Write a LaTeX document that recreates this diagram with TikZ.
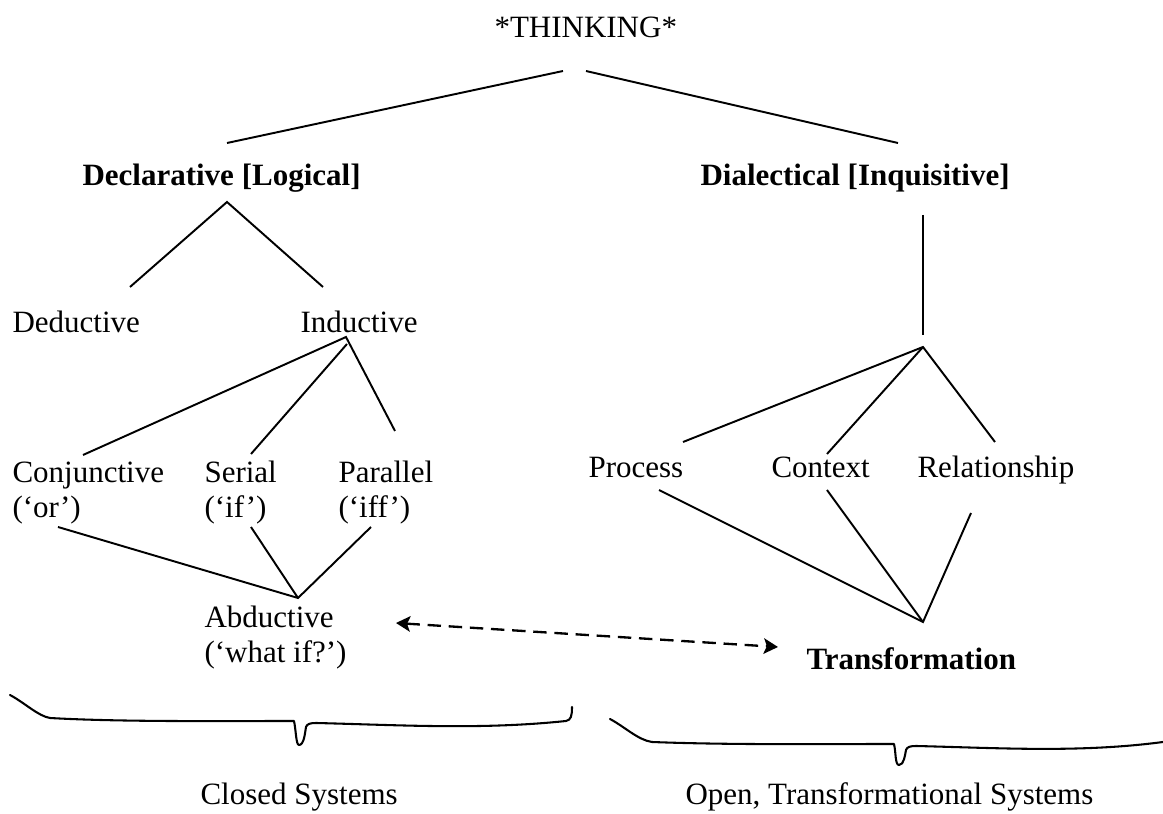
\documentclass[tikz,border=0pt]{standalone}
\usepackage{fontspec}
\setmainfont{Liberation Serif}
\usetikzlibrary{arrows.meta}
\begin{document}
\begin{tikzpicture}[x=0.3871pt,y=-0.3871pt,
  txt/.style={inner sep=0pt, anchor=base west, font=\fontsize{12}{13.75}\selectfont, align=left},
  bld/.style={txt, font=\fontsize{12}{13.75}\selectfont\bfseries},
  ln/.style={line width=0.75pt},
  brace/.style={line width=0.8pt, line cap=round, line join=round},
  dbl/.style={line width=0.9pt, dash pattern=on 5.2pt off 3pt,
    {Stealth[length=5.5pt,width=6pt,inset=1.2pt]}-{Stealth[length=5.5pt,width=6pt,inset=1.2pt]}}
]
\useasboundingbox (0,0) rectangle (1163,814);

% texts (two-line nodes: base anchor is the baseline of the last line)
\node[txt] (think) at (494,38) {*THINKING*};
\node[bld] (decl) at (82,186) {Declarative [Logical]};
\node[bld] (dial) at (700,186) {Dialectical [Inquisitive]};
\node[txt] (ded) at (12,333) {Deductive};
\node[txt] (ind) at (300,333) {Inductive};
\node[txt] (conj) at (12,518) {Conjunctive\\(‘or’)};
\node[txt] (ser) at (204,518) {Serial\\(‘if’)};
\node[txt] (par) at (338,518) {Parallel\\(‘iff’)};
\node[txt] (abd) at (204,663) {Abductive\\(‘what if?’)};
\node[txt] (proc) at (588,478) {Process};
\node[txt] (cont) at (771,478) {Context};
\node[txt] (rel) at (917,478) {Relationship};
\node[bld] (trans) at (806,670) {Transformation};
\node[txt] (closed) at (200,805) {Closed Systems};
\node[txt] (open) at (685,805) {Open, Transformational Systems};

% connector end points
\coordinate (tL) at (563,71);
\coordinate (tR) at (586,71);
\coordinate (declUp) at (227,143);
\coordinate (dialUp) at (898,143);
\coordinate (declDn) at (227,202);
\coordinate (dedUp) at (130,287);
\coordinate (indUp) at (323,287);
\coordinate (indDn) at (346,337);
\coordinate (indDnB) at (347,344);
\coordinate (conjUp) at (83,455);
\coordinate (serUp) at (251,454);
\coordinate (parUp) at (395,431);
\coordinate (conjDn) at (58,527);
\coordinate (serDn) at (251,527);
\coordinate (parDn) at (371,527);
\coordinate (abdUp) at (298,598);
\coordinate (dialDn) at (923,215);
\coordinate (vBot) at (923,335);
\coordinate (dialApex) at (923,347);
\coordinate (procUp) at (683,442);
\coordinate (contUp) at (827,454);
\coordinate (relUp) at (995,442);
\coordinate (procDn) at (659,490);
\coordinate (contDn) at (827,490);
\coordinate (relDn) at (971,513);
\coordinate (transUp) at (923,622);
\coordinate (arrL) at (396,623);
\coordinate (arrR) at (778,647);

% connectors
\draw[ln] (tL) -- (declUp);
\draw[ln] (tR) -- (dialUp);
\draw[ln] (dedUp) -- (declDn) -- (indUp);
\draw[ln] (conjUp) -- (indDn) -- (parUp);
\draw[ln] (serUp) -- (indDnB);
\draw[ln] (conjDn) -- (abdUp) -- (parDn);
\draw[ln] (serDn) -- (abdUp);
\draw[ln] (dialDn) -- (vBot);
\draw[ln] (procUp) -- (dialApex) -- (relUp);
\draw[ln] (contUp) -- (dialApex);
\draw[ln] (procDn) -- (transUp) -- (relDn);
\draw[ln] (contDn) -- (transUp);
\draw[dbl] (arrL) -- (arrR);

% braces
\draw[brace] (10,695) .. controls (25,703) and (38,716) .. (50,718)
  .. controls (120,722) and (220,721) .. (294,721)
  .. controls (296,730) and (296,745) .. (299,745)
  .. controls (304,745) and (305,733) .. (306,727)
  .. controls (307,724) and (310,723) .. (316,723)
  .. controls (400,725) and (480,730) .. (566,721)
  .. controls (571,720) and (572,716) .. (572,707);
\draw[brace] (610,719) .. controls (625,727) and (638,740) .. (652,742)
  .. controls (730,745) and (820,744) .. (894,744)
  .. controls (896,752) and (895,765) .. (899,765)
  .. controls (904,765) and (905,755) .. (906,750)
  .. controls (907,747) and (910,746) .. (916,746)
  .. controls (1000,748) and (1080,753) .. (1163,742);
\end{tikzpicture}
\end{document}
